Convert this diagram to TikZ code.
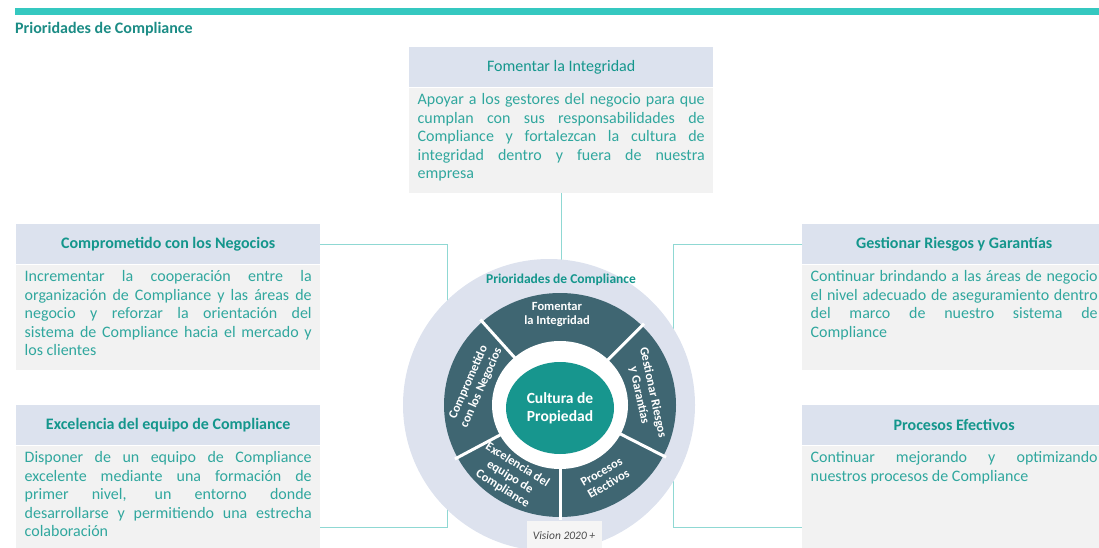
\documentclass[tikz,border=0pt]{standalone}
\usepackage{fontspec}
\setmainfont{Carlito}
\usetikzlibrary{calc,positioning,shapes.geometric,shadows}
\definecolor{barteal}{HTML}{35C8C0}
\definecolor{titleteal}{HTML}{1B8C85}
\definecolor{headteal}{HTML}{14968C}
\definecolor{bodyteal}{HTML}{30A79E}
\definecolor{headfill}{HTML}{DCE2EE}
\definecolor{bodyfill}{HTML}{F2F2F2}
\definecolor{linkteal}{HTML}{8FD8D3}
\definecolor{ringbg}{HTML}{DDE2EE}
\definecolor{segfill}{HTML}{3F6672}
\definecolor{coreteal}{HTML}{17968E}
\definecolor{visfill}{HTML}{F5F5F5}

\begin{document}
\begin{tikzpicture}[x=1pt,y=-1pt,
  head/.style={fill=headfill, text=headteal, minimum width=304pt, minimum height=40pt, inner sep=0pt, anchor=north west, font=\fontsize{16}{19}\selectfont},
  sidehead/.style={head, font=\fontsize{16}{19}\selectfont\bfseries},
  body/.style={fill=bodyfill, text=bodyteal, text width=287pt, inner xsep=8.5pt, inner ysep=0pt, align=justify, text height=17pt, text depth=88pt, font={\fontsize{16}{18.5}\selectfont\tolerance=10000 \hyphenpenalty=10000 }},
  link/.style={draw=linkteal, line width=0.9pt},
  seg/.style={text=white, align=center, inner sep=0pt, font=\fontsize{12.5}{14}\selectfont\bfseries}]
\useasboundingbox (0,0) rectangle (1099,548);
\fill[barteal] (15,8) rectangle (1099,15);
\node[anchor=west, inner sep=0pt, text=titleteal, font=\fontsize{16}{18}\selectfont\bfseries] (title) at (15,29) {Prioridades de Compliance};

\node[head] (fomH) at (409,47) {Fomentar la Integridad};
\node[body, below=0pt of fomH] (fomB) {Apoyar a los gestores del negocio para que\linebreak cumplan con sus responsabilidades de\linebreak Compliance y fortalezcan la cultura de\linebreak integridad dentro y fuera de nuestra\linebreak empresa};
\node[sidehead] (comH) at (16,224) {Comprometido con los Negocios};
\node[body, below=0pt of comH] (comB) {Incrementar la cooperación entre la\linebreak organización de Compliance y las áreas de\linebreak negocio y reforzar la orientación del\linebreak sistema de Compliance hacia el mercado y\linebreak los clientes};
\node[sidehead] (excH) at (16,405) {Excelencia del equipo de Compliance};
\node[body, below=0pt of excH] (excB) {Disponer de un equipo de Compliance\linebreak excelente mediante una formación de\linebreak primer nivel, un entorno donde\linebreak desarrollarse y permitiendo una estrecha\linebreak colaboración};
\node[sidehead] (gesH) at (802,224) {Gestionar Riesgos y Garantías};
\node[body, below=0pt of gesH] (gesB) {Continuar brindando a las áreas de negocio\linebreak el nivel adecuado de aseguramiento dentro\linebreak del marco de nuestro sistema de\linebreak Compliance};
\node[sidehead] (proH) at (802,405) {Procesos Efectivos};
\node[body, below=0pt of proH] (proB) {Continuar mejorando y optimizando\linebreak nuestros procesos de Compliance};

\coordinate (c) at (560,405);
\coordinate (lfar) at (447,527);
\coordinate (rfar) at (673,527);
\draw[link] (fomB.south) -- (fomB.south |- c);
\draw[link] (comH.east) -| (lfar) -- (lfar -| excB.east);
\draw[link] (gesH.west) -| (rfar) -- (rfar -| proB.west);

\node[circle, fill=ringbg, minimum size=292pt, inner sep=0pt] (wheel) at (549,405) {};
\fill[segfill] (c) ellipse[x radius=116pt, y radius=112pt];
\fill[white] (c) ellipse[x radius=68pt, y radius=64pt];
\foreach \a in {45,132,208,270,333}
  \draw[white, line width=3pt] ($(c)+(\a:66pt and 62pt)$) -- ($(c)+(\a:119pt and 115pt)$);
\node[ellipse, fill=coreteal, minimum width=108pt, minimum height=92pt, inner sep=0pt, text=white, align=center, font=\fontsize{15.5}{18}\selectfont\bfseries] (core) at (560,408) {Cultura de\\Propiedad};
\node[text=headteal, inner sep=0pt, font=\fontsize{13.5}{16}\selectfont\bfseries] (ring) at (561,280) {Prioridades de Compliance};

\node[seg] (segFom) at (557,315) {Fomentar\\la Integridad};
\node[seg, rotate=66] (segCom) at (475,385) {Comprometido\\con los Negocios};
\node[seg, rotate=-78] (segGes) at (646,394) {Gestionar Riesgos\\y Garantías};
\node[seg, rotate=-32] (segExc) at (510,477) {Excelencia del\\equipo de\\Compliance};
\node[seg, rotate=30] (segPro) at (605,478) {Procesos\\Efectivos};

\node[fill=visfill, minimum width=75pt, minimum height=30pt, inner sep=0pt, text=black!70, font=\fontsize{11.5}{14}\selectfont\itshape, drop shadow={opacity=0.25, shadow xshift=0pt, shadow yshift=-1.5pt}] (vision) at (564,536) {Vision 2020 +};
\end{tikzpicture}
\end{document}
